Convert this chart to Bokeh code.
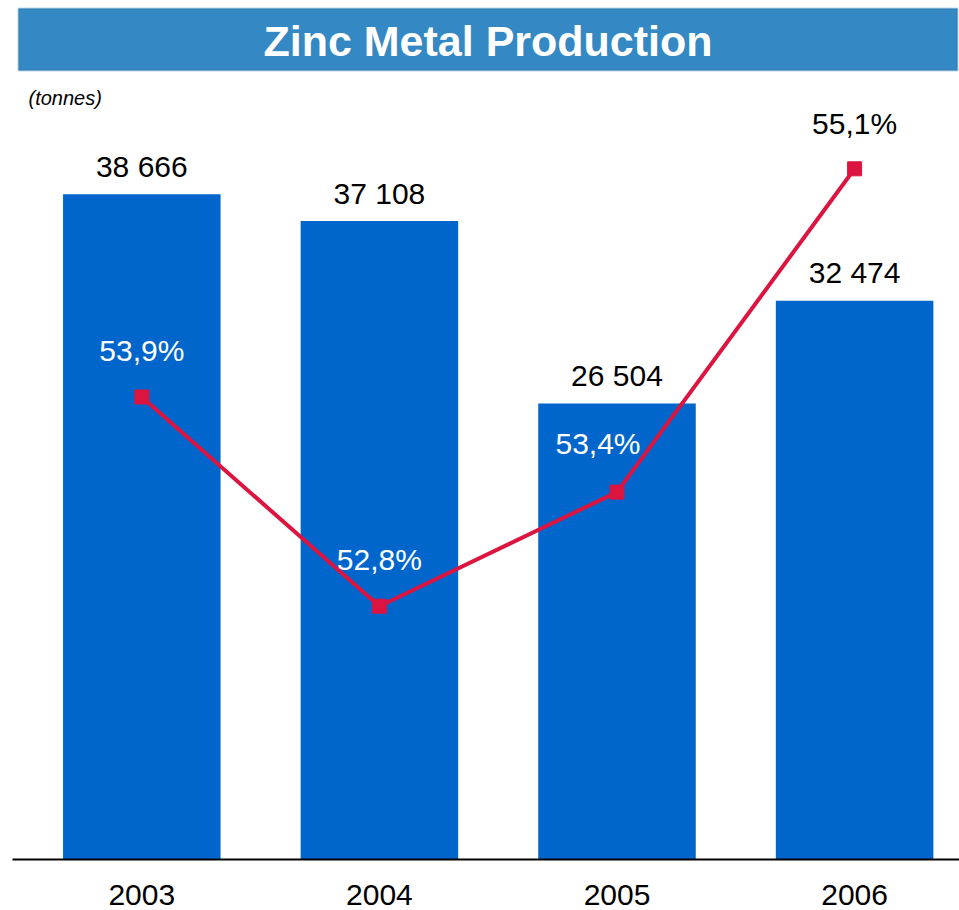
from bokeh.plotting import figure
from bokeh.models import (ColumnDataSource, Range1d, FixedTicker, BoxAnnotation, Label)
from bokeh.core.properties import value
from bokeh.embed import file_html
from bokeh.resources import INLINE

# ---- data ----
years = ["2003", "2004", "2005", "2006"]
production_t = [38666, 37108, 26504, 32474]
share_pct = [53.9, 52.8, 53.4, 55.1]
title_text = "Zinc Metal Production"
unit_text = "(tonnes)"

# ---- styles ----
FONT = "Liberation Sans"
BAR_COLOR = "#0066CC"
LINE_COLOR = "#DC1440"
pct_label_colors = ["white", "white", "white", "black"]
pct_label_dx = [0, 0, -19, 0]
pct_label_dy = [-47, -47, -49, -45]

xs = list(range(len(years)))
prod_labels = [f"{v:,}".replace(",", " ") for v in production_t]
pct_labels = [f"{v:.1f}".replace(".", ",") + "%" for v in share_pct]

src = ColumnDataSource(dict(
    x=xs, prod=production_t, prod_label=prod_labels,
    pct=share_pct, pct_label=pct_labels,
    pct_color=pct_label_colors, pct_dx=pct_label_dx, pct_dy=pct_label_dy,
))

W, H = 959, 910
p = figure(width=W, height=H, output_backend="svg", toolbar_location=None,
           x_range=Range1d(-0.5442, 3.4415), y_range=Range1d(0, 49927),
           y_axis_location=None, x_axis_location="below",
           min_border_left=12, min_border_right=0, min_border_top=0,
           min_border_bottom=51)
p.extra_y_ranges = {"pct": Range1d(51.468, 55.985), "px": Range1d(859, 0)}
p.extra_x_ranges = {"px": Range1d(12, 959)}

p.outline_line_color = None
p.xgrid.visible = False
p.ygrid.visible = False
p.background_fill_color = "white"
p.border_fill_color = "white"

ax = p.xaxis[0]
ax.ticker = FixedTicker(ticks=xs)
ax.major_label_overrides = {i: y for i, y in zip(xs, years)}
ax.axis_line_color = "black"
ax.axis_line_width = 2
ax.major_tick_line_color = None
ax.minor_tick_line_color = None
ax.major_tick_out = 0
ax.major_tick_in = 0
ax.major_label_standoff = 25
ax.major_label_text_font = FONT
ax.major_label_text_font_size = "30px"
ax.major_label_text_color = "black"

# title bar
p.add_layout(BoxAnnotation(left=18, right=957, top=8, bottom=70,
                           x_range_name="px", y_range_name="px",
                           fill_color="#3488C3", fill_alpha=1.0,
                           line_color="#226C9E", line_width=2, level="overlay"))
p.add_layout(Label(x=487.5, y=40, x_range_name="px", y_range_name="px",
                   text=title_text, text_align="center", text_baseline="middle",
                   text_font=FONT, text_font_style="bold", text_font_size="43px",
                   text_color="white", level="overlay"))
p.add_layout(Label(x=28, y=97, x_range_name="px", y_range_name="px",
                   text=unit_text, text_align="left", text_baseline="middle",
                   text_font=FONT, text_font_style="italic", text_font_size="20px",
                   text_color="black"))

# bars
p.vbar(x="x", top="prod", width=0.663, bottom=0, source=src,
       fill_color=BAR_COLOR, line_color=None)
p.text(x="x", y="prod", text="prod_label", source=src, y_offset=-28,
       text_align="center", text_baseline="middle", text_font=value(FONT),
       text_font_size="30px", text_color="black")

# line
p.line(x="x", y="pct", source=src, y_range_name="pct",
       line_color=LINE_COLOR, line_width=4)
p.scatter(x="x", y="pct", source=src, y_range_name="pct", marker="square",
          size=14, fill_color=LINE_COLOR, line_color=LINE_COLOR)
p.text(x="x", y="pct", text="pct_label", source=src, y_range_name="pct",
       x_offset="pct_dx", y_offset="pct_dy",
       text_align="center", text_baseline="middle", text_font=value(FONT),
       text_font_size="30px", text_color="pct_color")

open("out.html", "w").write(file_html(p, INLINE))
